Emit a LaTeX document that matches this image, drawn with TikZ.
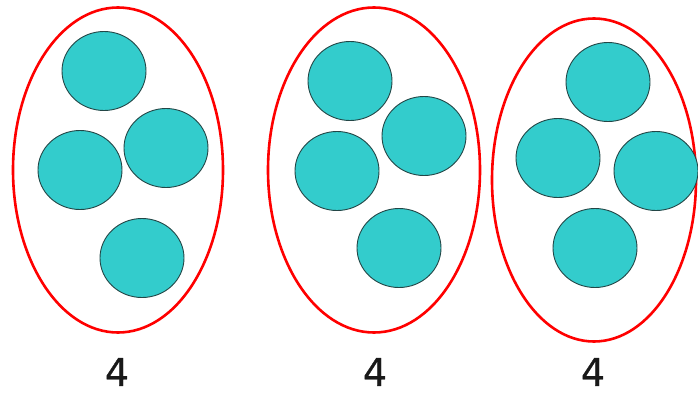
\documentclass[tikz,border=0pt]{standalone}
\usepackage{fontspec}
\newfontfamily\labfont[FakeBold=0.9]{DejaVu Sans}
\usetikzlibrary{shapes.geometric}
\definecolor{teal1}{RGB}{51,204,204}
\definecolor{edge1}{RGB}{35,70,70}
\tikzset{
  grp/.style={ellipse, draw=red, line width=2.6pt, inner sep=0pt},
  dot/.style={ellipse, draw=edge1, fill=teal1, line width=0.9pt, minimum width=84pt, minimum height=79pt, inner sep=0pt},
  lab/.style={font=\labfont\fontsize{38}{38}\selectfont, text=black!90}
}
\begin{document}
\begin{tikzpicture}[x=1pt,y=-1pt]
\useasboundingbox (0,0) rectangle (698,396);
% groups
\node[grp, minimum width=210pt, minimum height=325pt] (g1) at (118,170) {};
\node[grp, minimum width=212pt, minimum height=325pt] (g2) at (374,170) {};
\node[grp, minimum width=204pt, minimum height=323pt] (g3) at (594,180) {};
% group 1
\node[dot] (a1) at (104,71) {};
\node[dot] (a2) at (80,170) {};
\node[dot] (a3) at (166,148) {};
\node[dot] (a4) at (142,258) {};
% group 2
\node[dot] (b1) at (350,81) {};
\node[dot] (b2) at (424,136) {};
\node[dot] (b3) at (337,171) {};
\node[dot] (b4) at (399,248) {};
% group 3
\node[dot] (c1) at (608,82) {};
\node[dot] (c2) at (558,158) {};
\node[dot] (c3) at (656,171) {};
\node[dot] (c4) at (595,248) {};
% labels
\node[lab] (l1) at (117,372) {4};
\node[lab] (l2) at (375,372) {4};
\node[lab] (l3) at (593,372) {4};
\end{tikzpicture}
\end{document}
